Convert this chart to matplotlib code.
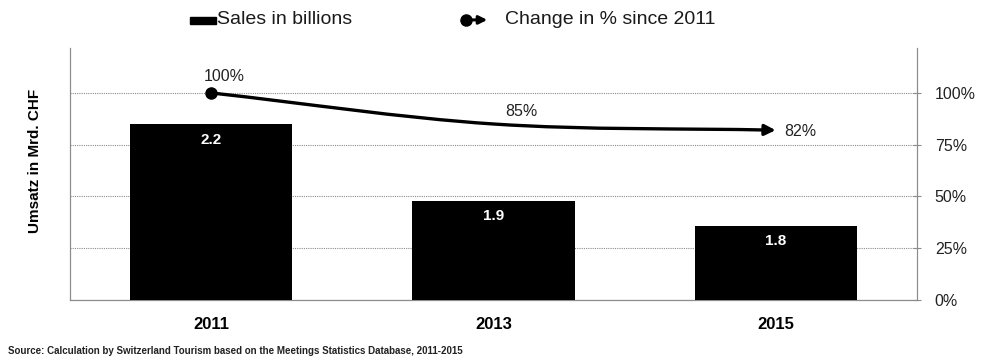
import numpy as np
import matplotlib
matplotlib.use("Agg")
import matplotlib.pyplot as plt
from matplotlib.path import Path
from matplotlib.patches import FancyArrowPatch, Rectangle
from matplotlib.lines import Line2D

plt.rcParams['font.family'] = ['Liberation Sans', 'DejaVu Sans']

years = ["2011", "2013", "2015"]
sales = [2.2, 1.9, 1.8]            # Umsatz in Mrd. CHF
change = [1.00, 0.85, 0.82]        # change since 2011
change_labels = ["100%", "85%", "82%"]
pct_ticks = [0, 0.25, 0.5, 0.75, 1.0]
pct_ticklabels = ["0%", "25%", "50%", "75%", "100%"]

grid_c = "#8c8c8c"

fig = plt.figure(figsize=(9.88, 3.62), dpi=100)
ax = fig.add_axes([0.0709, 0.1713, 0.857, 0.6961])
ax2 = ax.twinx()
# percent axis sits underneath so its grid stays behind the bars
ax.set_zorder(ax2.get_zorder() + 1)
ax.patch.set_visible(False)

x = np.arange(len(years))

# bars on the sales axis
ax.bar(x, sales, width=0.575, color="black", zorder=3)
ax.set_ylim(1.51, 2.5)
ax.set_xlim(-0.5, 2.5)
ax.set_yticks([])
ax.set_xticks(x)
ax.set_xticklabels(years, fontsize=12, fontweight="bold")
ax.tick_params(axis="x", length=0, pad=12)
for xi, v in zip(x, sales):
    ax.annotate(f"{v:.1f}", (xi, v), xytext=(0, -11), textcoords="offset points",
                ha="center", va="center", color="white", fontsize=11,
                fontweight="bold", zorder=4)
ax.set_ylabel("Umsatz in Mrd. CHF", fontsize=11, fontweight="bold")
ax.yaxis.set_label_coords(-0.033, 0.55)

# percent axis on the right
ax2.set_ylim(0, 1.217)
ax2.set_yticks(pct_ticks)
ax2.set_yticklabels(pct_ticklabels, fontsize=11.5, color="#222222")
ax2.tick_params(axis="y", direction="inout", length=6, color=grid_c, pad=10)
ax2.grid(axis="y", color=grid_c, linestyle=(0, (1, 1)), linewidth=0.8)
ax2.set_axisbelow(True)

for a in (ax, ax2):
    a.spines["top"].set_visible(False)
    for s in ("left", "right", "bottom"):
        a.spines[s].set_color(grid_c)
        a.spines[s].set_linestyle((0, (1, 1)))
        a.spines[s].set_linewidth(0.8)

# smoothed line through the percent points, ending in an arrow head
pts = np.column_stack([x, change]).astype(float)
tang = np.zeros_like(pts)
tang[0] = pts[1] - pts[0]
tang[-1] = pts[-1] - pts[-2]
for i in range(1, len(pts) - 1):
    tang[i] = (pts[i + 1] - pts[i - 1]) / 2
verts = [pts[0]]
codes = [Path.MOVETO]
for i in range(len(pts) - 1):
    verts += [pts[i] + tang[i] / 3, pts[i + 1] - tang[i + 1] / 3, pts[i + 1]]
    codes += [Path.CURVE4] * 3
curve = FancyArrowPatch(path=Path(verts, codes), arrowstyle="-|>",
                        mutation_scale=16, lw=2.4, color="black",
                        transform=ax2.transData, zorder=5)
ax2.add_patch(curve)
ax2.plot([x[0]], [change[0]], "o", ms=8, color="black", zorder=6)

offsets = [(9.5, 11.5), (20, 9), (6, -1)]
aligns = ["center", "center", "left"]
for xi, v, lab, off, ha in zip(x, change, change_labels, offsets, aligns):
    ax2.annotate(lab, (xi, v), xytext=off, textcoords="offset points",
                 ha=ha, va="center", fontsize=11.5, color="#222222")

# legend row across the top
fig.patches.append(Rectangle((0.192, 0.934), 0.0263, 0.019, color="black",
                             transform=fig.transFigure, figure=fig))
fig.text(0.2196, 0.947, "Sales in billions", fontsize=14, va="center",
         color="#1a1a1a")
fig.add_artist(FancyArrowPatch((0.466, 0.945), (0.496, 0.945),
                               transform=fig.transFigure, arrowstyle="-|>",
                               mutation_scale=12, lw=2.2, color="black"))
fig.add_artist(Line2D([0.4717], [0.945], marker="o", ms=8, color="black",
                      transform=fig.transFigure))
fig.text(0.511, 0.947, "Change in % since 2011", fontsize=14, va="center",
         color="#1a1a1a")

fig.text(0.008, 0.03,
         "Source: Calculation by Switzerland Tourism based on the Meetings "
         "Statistics Database, 2011-2015",
         fontsize=7, va="center", color="#222222", fontweight="bold")

fig.savefig("out.png", dpi=100)
